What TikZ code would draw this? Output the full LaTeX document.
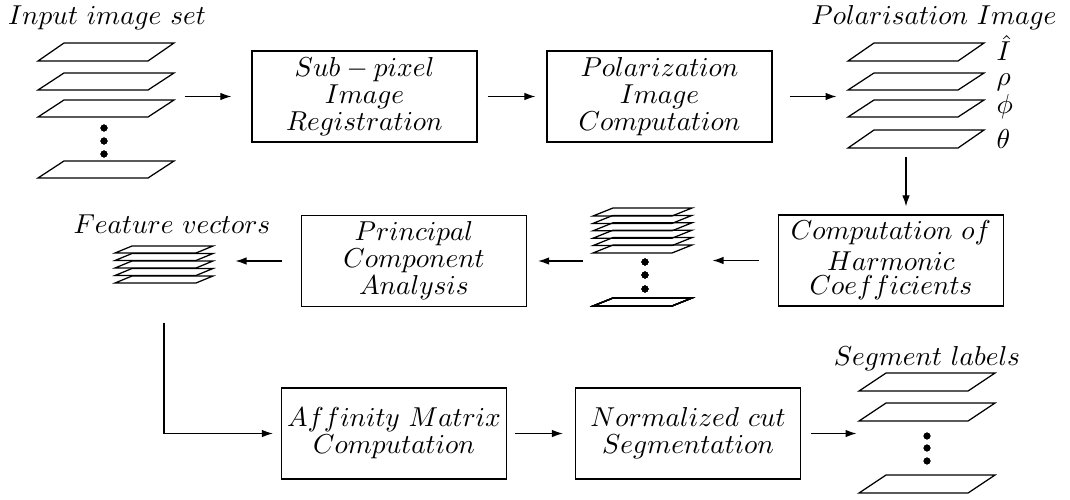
\documentclass[tikz,border=0pt]{standalone}
\usetikzlibrary{arrows.meta,fit}
\newcommand\myplate[5]{\draw[plate] (#1,#2) -- ++(#3,0) -- ++(#4,-#5) -- ++(-#3,0) -- cycle;}
\begin{document}
\begin{tikzpicture}[x=0.4pt,y=-0.4pt,
  box/.style={draw, line width=0.5pt, minimum width=90pt, minimum height=36.4pt, inner sep=0pt, align=center, font={\fontsize{10.7}{10.8}\selectfont}},
  lbl/.style={font={\fontsize{10.7}{12}\selectfont}, inner sep=0pt},
  arr/.style={line width=0.45pt, -{Latex[length=4.4pt,width=3pt]}},
  plate/.style={line width=0.5pt, line join=miter},
  region/.style={inner sep=0pt, draw=none},
  dot/.style={fill=black}]
\useasboundingbox (0,0) rectangle (1070,499);

% input image set
\foreach \b/\h in {61/18,90/17,117/17,178/17} \myplate{38}{\b}{110}{26}{\h}
\foreach \d in {128,141,154} \fill[dot] (104,\d) circle[radius=1.35pt];
\node[region, fit={(38,43)(174,178)}] (inp) {};
\node[lbl, anchor=base] (tin) at (107,25) {$Input\ image\ set$};

% polarisation image stack
\foreach \b/\h in {61/18,90/17,117/17,148/18} \myplate{848}{\b}{110}{26}{\h}
\node[region, fit={(848,43)(984,148)}] (pst) {};
\node[lbl, anchor=base] (tpol) at (934,25) {$Polarisation\ Image$};
\node[lbl, anchor=base west] (lI) at (996,61) {$\hat{I}$};
\node[lbl, anchor=base west] (lrho) at (996,86) {$\rho$};
\node[lbl, anchor=base west] (lphi) at (996,113) {$\phi$};
\node[lbl, anchor=base west] (ltheta) at (996,148) {$\theta$};

% middle stack
\foreach \b in {216,223.4,230.8,238.2,245.6,253} \myplate{593}{\b}{79}{20}{8}
\myplate{593}{306}{79}{20}{8}
\foreach \d in {262,275,289} \fill[dot] (645,\d) circle[radius=1.35pt];
\node[region, fit={(593,208)(692,306)}] (mst) {};

% feature vectors
\foreach \b in {253,260.5,268,275.5,283} \myplate{115}{\b}{81}{17}{7}
\node[region, fit={(115,246)(213,283)}] (fst) {};
\node[lbl, anchor=base] (tfeat) at (172,233) {$Feature\ vectors$};

% segment labels
\foreach \b in {391,421,493} \myplate{859}{\b}{109}{27}{18}
\foreach \d in {436,448,461} \fill[dot] (927,\d) circle[radius=1.35pt];
\node[region, fit={(859,373)(995,493)}] (sst) {};
\node[lbl, anchor=base] (tseg) at (927,365) {$Segment\ labels$};

% boxes
\node[box] (sub) at (364.5,96.5) {$Sub-pixel$\\$Image$\\$Registration$};
\node[box] (pcomp) at (659.5,96.5) {$Polarization$\\$Image$\\$Computation$};
\node[box] (harm) at (891,260.5) {$Computation\ of$\\[1.5pt]$Harmonic$\\[-1pt]$Coefficients$};
\node[box] (pca) at (414,261) {$Principal$\\$Component$\\$Analysis$};
\node[box] (aff) at (394,433.5) {$Affinity\ Matrix$\\$Computation$};
\node[box] (ncut) at (688,433.5) {$Normalized\ cut$\\$Segmentation$};

% connectors
\draw[arr] ([xshift=4pt]inp.east |- sub.west) -- ([xshift=-8pt]sub.west);
\draw[arr] ([xshift=4pt]sub.east) -- ([xshift=-4.4pt]pcomp.west);
\draw[arr] ([xshift=6.8pt]pcomp.east) -- ([xshift=-4.4pt]pst.west |- pcomp.east);
\draw[arr] ([xshift=-4pt,yshift=-3.2pt]pst.south) -- ([xshift=-4pt,yshift=3.2pt]pst.south |- harm.north);
\draw[arr] ([xshift=-7.6pt]harm.west) -- ([xshift=8pt]mst.east |- harm.west);
\draw[arr] ([xshift=-4pt]mst.west |- pca.east) -- ([xshift=4.4pt]pca.east);
\draw[arr] ([xshift=-7.6pt]pca.west) -- ([xshift=8.8pt]fst.east |- pca.west);
\draw[arr] ([yshift=-15.6pt]fst.south) |- ([xshift=-3.2pt]aff.west);
\draw[arr] ([xshift=3.2pt]aff.east) -- ([xshift=-4.8pt]ncut.west);
\draw[arr] ([xshift=4pt]ncut.east) -- ([xshift=-0.8pt]sst.west |- ncut.east);
\end{tikzpicture}
\end{document}
